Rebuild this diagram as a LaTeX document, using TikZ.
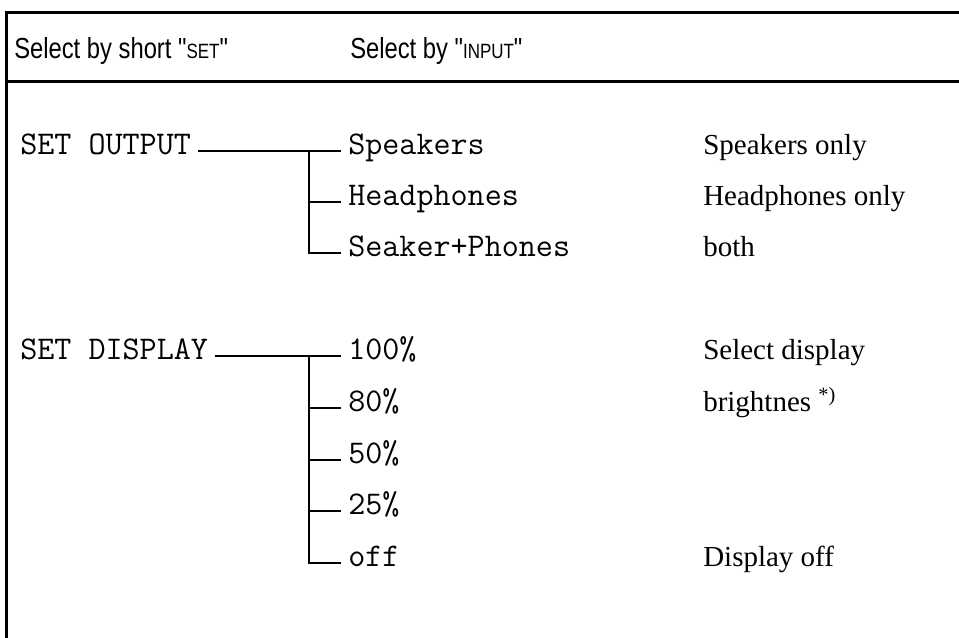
\documentclass[tikz,border=0pt]{standalone}
\usepackage{fontspec}
\usepackage{tikz}
\setmainfont{Liberation Serif}
\newfontfamily\narrowsans[FakeStretch=0.82]{Liberation Sans}
\newcommand{\hdsc}[1]{{\fontsize{15.5}{16}\selectfont #1}}

\begin{document}
\begin{tikzpicture}[x=0.75pt,y=0.75pt,yscale=-1,xscale=1,
	head/.style={inner sep=0pt, anchor=base west, font=\narrowsans\fontsize{21.75}{24}\selectfont},
	mono/.style={inner xsep=5.25pt, inner ysep=0pt, anchor=mid west, font=\ttfamily\fontsize{24.85}{26}\selectfont},
	note/.style={inner sep=0pt, anchor=mid west, font=\rmfamily\fontsize{21.75}{24}\selectfont},
	branch/.style={line width=1.5pt},
	frame/.style={line width=2.25pt}]
	\useasboundingbox (0,0) rectangle (959,638);
	
	%Frame
	\draw [frame] (959,13) -- (6,13) -- (6,638) ;
	\draw [frame] (6,82) -- (959,82) ;
	
	%Header
	\node [head] (hshort) at (14,59) {Select by short "\hdsc{SET}"};
	\node [head] (hinput) at (350,59) {Select by "\hdsc{INPUT}"};
	
	%SET OUTPUT
	\node [mono] (out) at (13,151) {SET OUTPUT};
	\node [mono] (spk) at (341,151) {Speakers};
	\node [mono] (hph) at (341,202) {Headphones};
	\node [mono] (sph) at (341,253) {Seaker+Phones};
	\coordinate (tout) at (309,151);
	\draw [branch] (out.mid east) -- (spk.mid west) ;
	\draw [branch] (tout) |- (hph.mid west) ;
	\draw [branch] (tout) |- (sph.mid west) ;
	
	\node [note] (nspk) at (703,151) {Speakers only};
	\node [note] (nhph) at (703,202) {Headphones only};
	\node [note] (nsph) at (703,253) {both};
	
	%SET DISPLAY
	\node [mono] (disp) at (13,356) {SET DISPLAY};
	\node [mono] (d100) at (341,356) {100\%};
	\node [mono] (d80) at (341,408) {80\%};
	\node [mono] (d50) at (341,460) {50\%};
	\node [mono] (d25) at (341,511) {25\%};
	\node [mono] (doff) at (341,563) {off};
	\coordinate (tdisp) at (309,356);
	\draw [branch] (disp.mid east) -- (d100.mid west) ;
	\foreach \lvl in {d80,d50,d25,doff}
		\draw [branch] (tdisp) |- (\lvl.mid west) ;
	
	\node [note] (nsel) at (703,356) {Select display};
	\node [note] (nbri) at (703,408) {brightnes \textsuperscript{*)}};
	\node [note] (noff) at (703,563) {Display off};
	
\end{tikzpicture}
\end{document}
